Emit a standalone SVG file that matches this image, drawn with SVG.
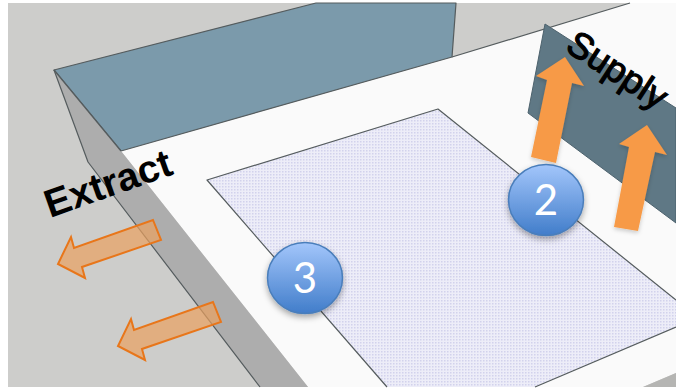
<svg xmlns="http://www.w3.org/2000/svg" width="676" height="389" viewBox="0 0 676 389">
<style>
.edge{stroke:#555c5e;stroke-width:1.2;stroke-linejoin:round}
.supply{fill:#f79a46;filter:url(#soft)}
.extract{fill:#e9a15f;fill-opacity:.7;stroke:#e8761a;stroke-width:2}
.ball{stroke:#4a7ebb;stroke-width:1.5;fill:url(#ballFill);filter:url(#shadow)}
.num{font-family:"Lato","Open Sans",sans-serif;font-size:42px;fill:#fff;text-anchor:middle}
.lab{font-family:"Liberation Sans",Arial,sans-serif;fill:#000}
</style>
<defs>
<pattern id="dots" width="3" height="3" patternUnits="userSpaceOnUse">
<rect width="3" height="3" fill="#ededf8"/>
<rect x="0" y="0" width="1.5" height="1.5" fill="#d2d2ec"/>
</pattern>
<linearGradient id="ballFill" x1="0" y1="0" x2="0" y2="1">
<stop offset="0" stop-color="#a3c6fb"/>
<stop offset="1" stop-color="#417dca"/>
</linearGradient>
<filter id="shadow" x="-30%" y="-30%" width="160%" height="170%">
<feDropShadow dx="0" dy="3" stdDeviation="3" flood-color="#000" flood-opacity=".35"/>
</filter>
<filter id="soft" x="-20%" y="-20%" width="140%" height="140%">
<feDropShadow dx="0" dy="2" stdDeviation="2" flood-color="#000" flood-opacity=".2"/>
</filter>
</defs>
<rect width="676" height="389" fill="#fff"/>
<g id="scene">
<rect x="8" y="3" width="668" height="384" fill="#cdcdcb"/>
<polygon id="floor" points="121,151 452,57 630,3 676,3 676,373 643,387 308,387" fill="#fafafa"/>
<polygon id="back-wall" class="edge" points="54,70 316,3 456,3 452,57 121,151" fill="#7b9aab"/>
<line class="edge" x1="452" y1="57" x2="630" y2="3"/>
<polygon id="side-wall" points="54,70 121,151 308,387 260,387 88,162" fill="#adadad"/>
<polyline class="edge" fill="none" points="54,70 121,151"/>
<polyline class="edge" fill="none" points="54,70 88,162 260,387"/>
<polygon id="corner" points="643,387 676,373 676,387" fill="#b5b5b3"/>
<polygon id="diffuser" points="207,180 438,109 676,300 676,327 535,387 387,387" fill="url(#dots)"/>
<polyline class="edge" fill="none" points="387,387 207,180 438,109 676,300"/>
<polyline class="edge" fill="none" points="676,327 535,387"/>
<polygon id="supply-wall" points="545,24 528,113 676,223 676,108" fill="#5f7885" stroke="#4d626d" stroke-width="1"/>
</g>
<g id="connectors">
<polygon class="supply" points="531,157 556,163 572,83 584,86 565,57 536,76 547,80"/>
<polygon class="supply" points="614,227 638,231 655,152 667,155 647,125 619,144 629,147"/>
<polygon class="extract" points="153,220 161,240 82,267 85,278 58,264 71,237 74,248"/>
<polygon class="extract" points="213,302 221,322 142,349 145,360 118,346 131,319 134,330"/>
</g>
<g id="node-2">
<ellipse class="ball" cx="546" cy="200" rx="37.500" ry="35.500"/>
<text class="num" x="546" y="215">2</text>
</g>
<g id="node-3">
<ellipse class="ball" cx="305" cy="278" rx="37.500" ry="35.500"/>
<text class="num" x="305" y="293">3</text>
</g>
<g id="label-extract">
<text class="lab" font-size="39" font-weight="700" transform="translate(50 218) rotate(-19.500)">Extract</text>
</g>
<g id="label-supply">
<text class="lab" font-size="36.500" stroke="#000" stroke-width="1.2" transform="translate(564 50) rotate(33)">Supply</text>
</g>
</svg>
